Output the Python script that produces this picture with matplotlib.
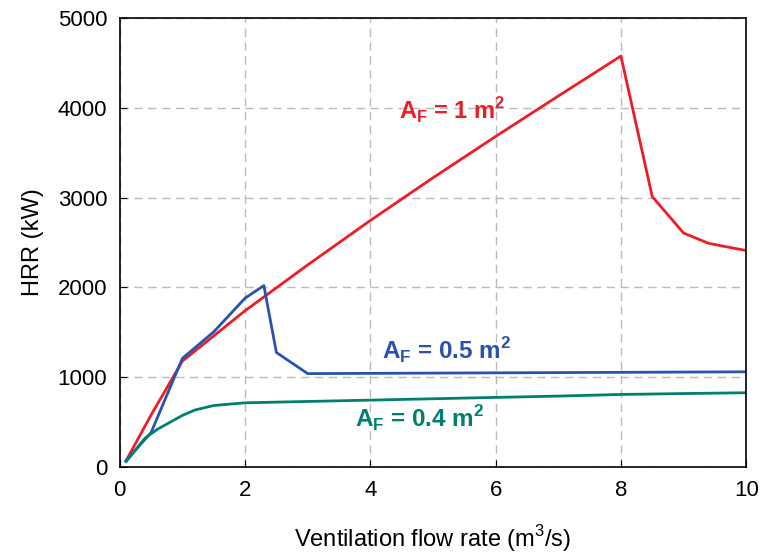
import numpy as np
import matplotlib.pyplot as plt

plt.rcParams['font.family'] = ['Liberation Sans', 'DejaVu Sans']
plt.rcParams['mathtext.fontset'] = 'custom'
plt.rcParams['mathtext.rm'] = 'Liberation Sans'
plt.rcParams['mathtext.bf'] = 'Liberation Sans:bold'

# Datos
x_1 = [0.1, 0.5, 1.0, 2.0, 3.0, 4.0, 5.0, 6.0, 7.0, 8.0, 8.5, 9.0, 9.4, 10.0]
hrr_1 = [70, 580, 1180, 1740, 2250, 2745, 3220, 3680, 4130, 4575, 3010, 2605, 2490, 2410]

x_05 = [0.1, 0.5, 1.0, 1.5, 2.0, 2.3, 2.5, 3.0, 10.0]
hrr_05 = [70, 385, 1210, 1505, 1880, 2020, 1275, 1040, 1060]

x_04 = [0.1, 0.4, 0.6, 1.0, 1.2, 1.5, 2.0, 3.0, 4.0, 5.0, 6.0, 7.0, 8.0, 9.0, 10.0]
hrr_04 = [60, 320, 420, 575, 635, 685, 715, 730, 745, 760, 775, 790, 808, 818, 827]

red = '#ee1c25'
blue = '#2a52ad'
green = '#00806f'

fig = plt.figure(figsize=(7.63, 5.58), dpi=100)
ax = fig.add_axes([0.157, 0.163, 0.821, 0.805])

ax.plot(x_1, hrr_1, color=red, lw=2)
ax.plot(x_05, hrr_05, color=blue, lw=2)
ax.plot(x_04, hrr_04, color=green, lw=2)

ax.set_xlim(0, 10)
ax.set_ylim(0, 5000)
ax.set_xticks([0, 2, 4, 6, 8, 10])
ax.set_yticks([0, 1000, 2000, 3000, 4000, 5000])
ax.grid(True, color='#bbbbbb', linestyle=(0, (6, 4)), lw=1)
ax.set_axisbelow(True)
ax.tick_params(direction='in', length=5, labelsize=16, pad=9, top=False, right=False)
for s in ax.spines.values():
    s.set_linewidth(1.2)

ax.set_xlabel('Ventilation flow rate (m$^3$/s)', fontsize=17, labelpad=16)
ax.set_ylabel('HRR (kW)', fontsize=17, labelpad=10)

ax.text(5.3, 3975, r'$\mathbf{A_F}$ = 1 m$^\mathbf{2}$', color=red, fontsize=17,
        fontweight='bold', ha='center', va='center')
ax.text(5.22, 1300, r'$\mathbf{A_F}$ = 0.5 m$^\mathbf{2}$', color=blue, fontsize=17.5,
        fontweight='bold', ha='center', va='center')
ax.text(4.78, 545, r'$\mathbf{A_F}$ = 0.4 m$^\mathbf{2}$', color=green, fontsize=17.5,
        fontweight='bold', ha='center', va='center')

fig.savefig('out.png', dpi=100)
